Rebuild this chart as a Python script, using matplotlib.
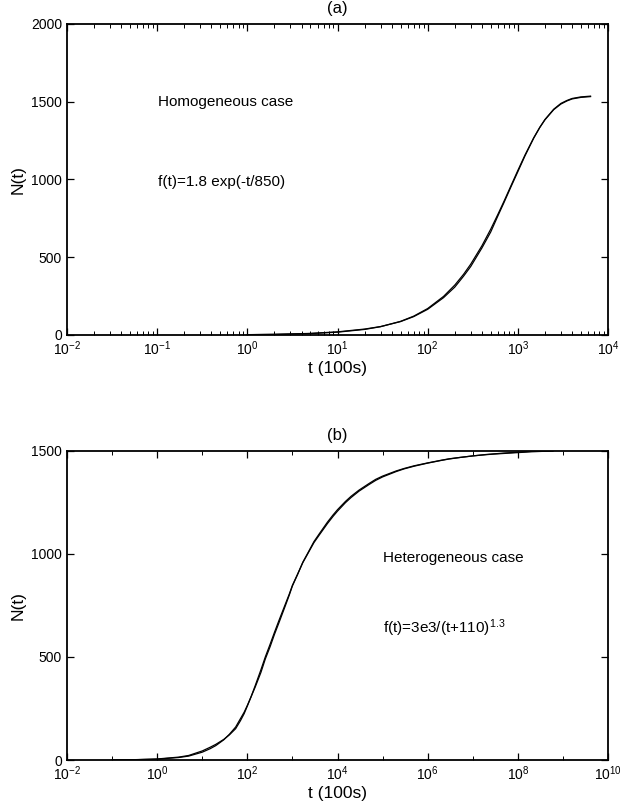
import matplotlib
matplotlib.use("Agg")
import matplotlib.pyplot as plt
import matplotlib.ticker as mticker
import numpy as np

plt.rcParams['font.family'] = ['Liberation Sans', 'DejaVu Sans']
plt.rcParams['mathtext.default'] = 'regular'

# (a) homogeneous case: measured N(t) and fitted curve
t_hom = [1, 2, 5, 10, 20, 30, 50, 70, 100, 150, 200, 250, 300, 400, 500, 600, 700, 850,
         1000, 1200, 1500, 1750, 2000, 2500, 3000, 3500, 4000, 5000, 6400]
n_hom_fit = [1.8, 3.6, 9.0, 17.9, 35.6, 53.1, 87.4, 121, 170, 248, 321, 390, 455, 574, 680, 775,
             858, 967, 1058, 1157, 1268, 1335, 1384, 1449, 1485, 1505, 1518, 1528, 1533]
n_hom_data = [2, 4, 10, 20, 38, 54, 86, 118, 165, 240, 308, 378, 440, 560, 662, 765,
              850, 960, 1050, 1152, 1266, 1334, 1386, 1452, 1489, 1508, 1521, 1531, 1536]

# (b) heterogeneous case
t_het = [0.1, 0.3, 1, 3, 5, 10, 15, 20, 30, 40, 55, 70, 85, 100, 120, 150, 200, 250, 320, 400,
         500, 700, 850, 1000, 1300, 1700, 2200, 3000, 4000, 6000, 8000, 1e4, 1.5e4, 2e4, 3e4,
         5e4, 7e4, 1e5, 2e5, 3e5, 5e5, 1e6, 2e6, 3e6, 5e6, 1e7, 2e7, 3e7, 5e7, 1e8, 2e8, 6e8]
n_het_fit = [0.4, 1.3, 4, 12, 19, 38, 55, 70, 98, 125, 160, 200, 232, 265, 305, 355, 425, 490,
             550, 610, 665, 750, 800, 845, 900, 960, 1005, 1060, 1100, 1155, 1190, 1215, 1255,
             1280, 1310, 1342, 1362, 1378, 1403, 1415, 1428, 1442, 1455, 1462, 1468, 1476,
             1482, 1485, 1488, 1492, 1496, 1500]
n_het_data = [0.5, 1.5, 5, 14, 22, 44, 62, 76, 100, 122, 152, 190, 225, 262, 305, 362, 438, 500,
              562, 620, 676, 758, 805, 848, 902, 958, 1002, 1055, 1094, 1148, 1183, 1208, 1249,
              1274, 1305, 1337, 1357, 1374, 1400, 1413, 1426, 1441, 1454, 1461, 1468, 1476,
              1483, 1486, 1490, 1494, 1498, 1500]

fig = plt.figure(figsize=(6.34, 8.05), dpi=100)
ax1 = fig.add_axes([0.1057, 0.5839, 0.8533, 0.3863])
ax2 = fig.add_axes([0.1057, 0.0559, 0.8533, 0.3839])

def style(ax):
    for s in ax.spines.values():
        s.set_linewidth(1.3)
    ax.tick_params(which='both', direction='in', top=True, right=True, labelsize=10)
    ax.tick_params(which='major', length=5, width=0.9)
    ax.tick_params(which='minor', length=3, width=0.7)
    ax.tick_params(axis='x', which='major', pad=3)

# top panel
ax1.semilogx(t_hom, n_hom_data, color='black', lw=0.9)
ax1.semilogx(t_hom, n_hom_fit, color='black', lw=0.9)
ax1.set_xlim(1e-2, 1e4)
ax1.set_ylim(0, 2000)
ax1.set_yticks([0, 500, 1000, 1500, 2000])
ax1.xaxis.set_major_locator(mticker.LogLocator(base=10, numticks=20))
ax1.xaxis.set_minor_locator(mticker.LogLocator(base=10, subs=np.arange(2, 10), numticks=50))
ax1.xaxis.set_minor_formatter(mticker.NullFormatter())
style(ax1)
ax1.set_xlabel('t (100s)', fontsize=12.5, labelpad=2)
ax1.set_ylabel('N(t)', fontsize=12.5, labelpad=4)
ax1.set_title('(a)', fontsize=12, pad=8)
ax1.text(0.168, 0.749, 'Homogeneous case', transform=ax1.transAxes, fontsize=11, va='center')
ax1.text(0.168, 0.492, 'f(t)=1.8 exp(-t/850)', transform=ax1.transAxes, fontsize=11, va='center')

# bottom panel
ax2.semilogx(t_het, n_het_data, color='black', lw=0.9)
ax2.semilogx(t_het, n_het_fit, color='black', lw=0.9)
ax2.set_xlim(1e-2, 1e10)
ax2.set_ylim(0, 1500)
ax2.set_yticks([0, 500, 1000, 1500])
ax2.set_xticks([10.0 ** k for k in range(-2, 11, 2)])
ax2.set_xticks([10.0 ** k for k in range(-1, 10, 2)], minor=True)
ax2.xaxis.set_major_formatter(mticker.LogFormatterSciNotation())
ax2.xaxis.set_minor_formatter(mticker.NullFormatter())
style(ax2)
ax2.set_xlabel('t (100s)', fontsize=12.5, labelpad=2)
ax2.set_ylabel('N(t)', fontsize=12.5, labelpad=4)
ax2.set_title('(b)', fontsize=12, pad=8)
ax2.text(0.584, 0.654, 'Heterogeneous case', transform=ax2.transAxes, fontsize=11, va='center')
ax2.text(0.584, 0.427, 'f(t)=3e3/(t+110)$^{1.3}$', transform=ax2.transAxes, fontsize=11, va='center')

fig.savefig('out.png', dpi=100)
